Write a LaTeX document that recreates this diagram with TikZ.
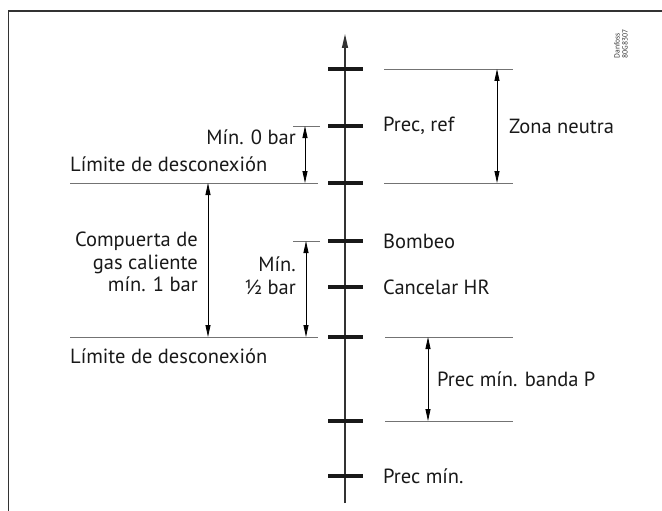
\documentclass[tikz,border=0pt]{standalone}
\usepackage{fontspec}
\setmainfont{PT Sans}
\usetikzlibrary{arrows.meta}
\begin{document}
\begin{tikzpicture}[x=1pt,y=-1pt,
  tickbar/.style={fill=black!90,draw=none,inner sep=0pt,minimum width=35pt,minimum height=4pt},
  refline/.style={draw=black!55,line width=0.9pt},
  dimarrow/.style={draw=black,line width=0.8pt,{Triangle[length=12pt,width=5pt]}-{Triangle[length=12pt,width=5pt]}},
  lbl/.style={font=\fontsize{20.5}{22.5}\selectfont,inner sep=0pt,text=black!90},
  frameline/.style={draw=black!80,line width=1.2pt}]
\useasboundingbox (0,0) rectangle (662,511);
% frame
\coordinate (fc) at (8.5,11);
\coordinate (fr) at (662,11);
\coordinate (fb) at (8.5,511);
\draw[frameline] (fr) -- (fc) -- (fb);
% axis
\coordinate (axb) at (345,503);
\coordinate (axt) at (345,34);
\draw[line width=1.2pt,black!80,-{Triangle[length=14pt,width=6pt]}] (axb) -- (axt);
% ticks
\node[tickbar] (t1) at (345,69) {};
\node[tickbar] (t2) at (345,126) {};
\node[tickbar] (t3) at (345,183) {};
\node[tickbar] (t4) at (345,241) {};
\node[tickbar] (t5) at (345,287) {};
\node[tickbar] (t6) at (345,337) {};
\node[tickbar] (t7) at (345,421) {};
\node[tickbar] (t8) at (345,476) {};
% right labels
\node[lbl,anchor=west] (prec) at (383,126) {Prec, ref};
\node[lbl,anchor=west] (bomb) at (383,241) {Bombeo};
\node[lbl,anchor=west] (canc) at (383,287) {Cancelar HR};
\node[lbl,anchor=west] (pmin) at (383,476) {Prec mín.};
% zona neutra
\coordinate (zn1a) at (384,69); \coordinate (zn1b) at (513,69);
\coordinate (zn2a) at (384,183); \coordinate (zn2b) at (513,183);
\draw[refline] (zn1a) -- (zn1b);
\draw[refline] (zn2a) -- (zn2b);
\coordinate (zna) at (497,69); \coordinate (znb) at (497,183);
\draw[dimarrow] (zna) -- (znb);
\node[lbl,anchor=west] (zn) at (509,126) {Zona neutra};
% prec min banda P
\coordinate (pb1a) at (385,337); \coordinate (pb1b) at (513,337);
\coordinate (pb2a) at (385,421); \coordinate (pb2b) at (513,421);
\draw[refline] (pb1a) -- (pb1b);
\draw[refline] (pb2a) -- (pb2b);
\coordinate (pba) at (428,337); \coordinate (pbb) at (428,421);
\draw[dimarrow] (pba) -- (pbb);
\node[lbl,anchor=west] (pb) at (437,379) {Prec mín. banda P};
% left: Min 0 bar
\coordinate (m0a) at (293,126); \coordinate (m0b) at (320,126);
\draw[refline] (m0a) -- (m0b);
\coordinate (l1a) at (70,183); \coordinate (l1b) at (318,183);
\draw[refline] (l1a) -- (l1b);
\coordinate (m0t) at (305,126); \coordinate (m0d) at (305,183);
\draw[dimarrow] (m0t) -- (m0d);
\node[lbl,anchor=east] (m0) at (296,137) {Mín. 0 bar};
\node[lbl,anchor=west] (lim1) at (70,164) {Límite de desconexión};
% compuerta
\coordinate (l2a) at (70,337); \coordinate (l2b) at (318,337);
\draw[refline] (l2a) -- (l2b);
\coordinate (cpa) at (208,183); \coordinate (cpb) at (208,337);
\draw[dimarrow] (cpa) -- (cpb);
\node[lbl,anchor=east,align=right] (cp) at (198,262) {Compuerta de\\gas caliente\\mín. 1 bar};
% min half bar
\coordinate (mha) at (293,241); \coordinate (mhb) at (320,241);
\draw[refline] (mha) -- (mhb);
\coordinate (mht) at (306,241); \coordinate (mhd) at (306,337);
\draw[dimarrow] (mht) -- (mhd);
\node[lbl,anchor=east,align=right] (mh) at (296,275.5) {Mín.\\½ bar};
\node[lbl,anchor=west] (lim2) at (70,356) {Límite de desconexión};
% code
\node[rotate=90,font=\fontsize{7.5}{8}\selectfont,align=left,inner sep=0pt,text=black!80] (code) at (621,44) {Danfoss\\80G8307};
\end{tikzpicture}
\end{document}
